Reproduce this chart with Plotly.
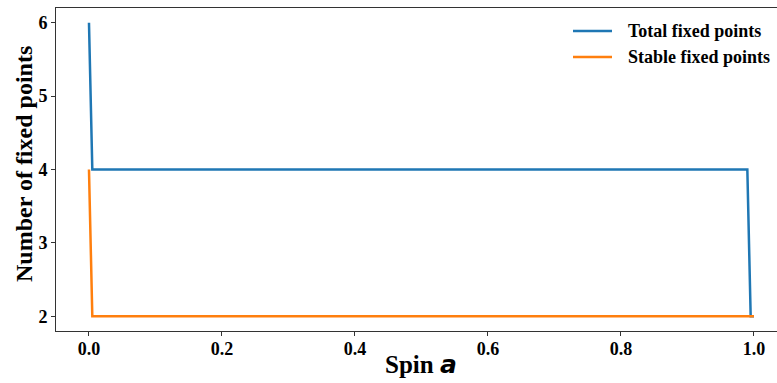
import plotly.graph_objects as go

# Data (breakpoints)
spin_total = [0.0, 0.005, 0.99, 0.995, 1.0]
total_fixed = [6, 4, 4, 2, 2]
spin_stable = [0.0, 0.005, 1.0]
stable_fixed = [4, 2, 2]
series_names = ["Total fixed points", "Stable fixed points"]
series_colors = ["#1f77b4", "#ff7f0e"]
x_ticks = [0.0, 0.2, 0.4, 0.6, 0.8, 1.0]
x_tick_labels = ["0.0", "0.2", "0.4", "0.6", "0.8", "1.0"]
y_ticks = [2, 3, 4, 5, 6]

FONT = "Liberation Serif, Times New Roman, serif"
W, H = 777, 383
L, R, T, B = 56, 0, 8, 52
PW, PH = W - L - R, H - T - B


def px(xp):
    return (xp - L) / PW


def py(yp):
    return (H - B - yp) / PH


fig = go.Figure()
fig.add_trace(go.Scatter(x=spin_total, y=total_fixed, mode="lines",
                         name=series_names[0],
                         line=dict(color=series_colors[0], width=2.5)))
fig.add_trace(go.Scatter(x=spin_stable, y=stable_fixed, mode="lines",
                         name=series_names[1],
                         line=dict(color=series_colors[1], width=2.5)))

fig.update_layout(
    width=W, height=H,
    margin=dict(l=L, r=R, t=T, b=B),
    paper_bgcolor="white", plot_bgcolor="white",
    font=dict(family=FONT, size=18, color="black", weight="bold"),
    showlegend=False,
)
fig.update_xaxes(range=[-0.0496, 1.0346], tickvals=x_ticks, ticktext=x_tick_labels,
                 showgrid=False, zeroline=False,
                 showline=True, linecolor="#333", linewidth=1, mirror=True,
                 ticks="outside", ticklen=4, tickcolor="#333", tickwidth=1,
                 ticklabelstandoff=-3,
                 tickfont=dict(family=FONT, size=18, weight="bold"))
fig.update_yaxes(range=[1.8, 6.2], tickvals=y_ticks,
                 showgrid=False, zeroline=False,
                 showline=True, linecolor="#333", linewidth=1, mirror=False,
                 ticks="outside", ticklen=4, tickcolor="#333", tickwidth=1,
                 tickfont=dict(family=FONT, size=18, weight="bold"))

# Manual legend (matplotlib-like: longer handle, wider gap)
for i, (name, color) in enumerate(zip(series_names, series_colors)):
    yrow = 31 + 26 * i
    fig.add_shape(type="line", xref="paper", yref="paper",
                  x0=px(573), x1=px(612), y0=py(yrow), y1=py(yrow),
                  line=dict(color=color, width=2.5))
    fig.add_annotation(text=name, xref="paper", yref="paper",
                       x=px(626), y=py(yrow), xanchor="left", yanchor="middle",
                       showarrow=False,
                       font=dict(family=FONT, size=18, weight="bold", color="black"))

# Axis titles
fig.add_annotation(text="Spin <i><span style='font-family:DejaVu Sans'>a</span></i>",
                   xref="paper", yref="paper", x=px(421), y=py(364),
                   xanchor="center", yanchor="middle", showarrow=False,
                   font=dict(family=FONT, size=25, weight="bold", color="black"))
fig.add_annotation(text="Number of fixed points",
                   xref="paper", yref="paper", x=px(24), y=py(164),
                   xanchor="center", yanchor="middle", textangle=-90, showarrow=False,
                   font=dict(family=FONT, size=24, weight="bold", color="black"))

fig.write_html("out.html")
